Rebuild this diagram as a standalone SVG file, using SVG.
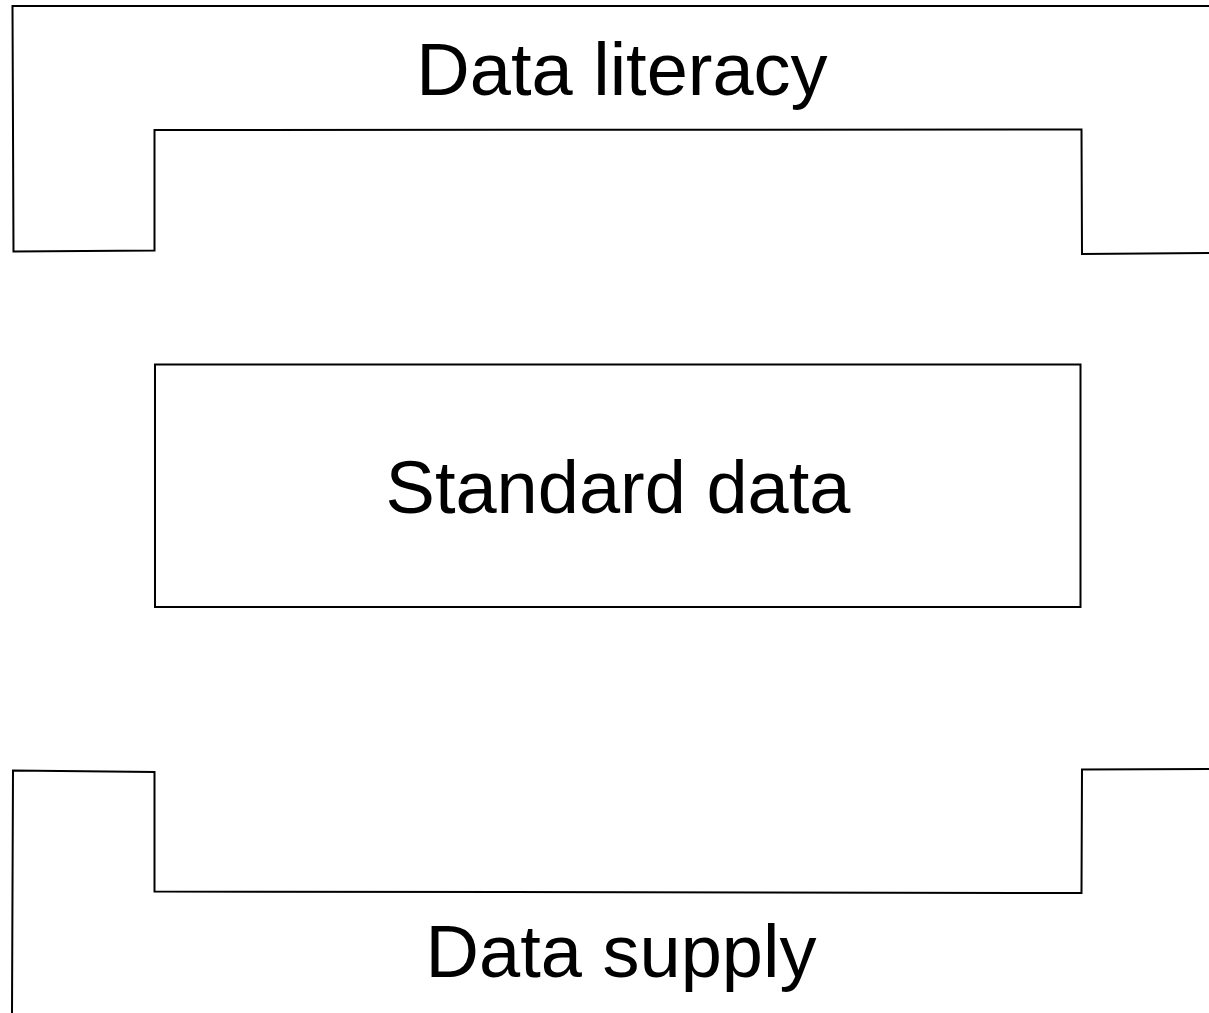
<svg xmlns="http://www.w3.org/2000/svg" width="1209" height="1013" viewBox="0 0 1209 1013">
  <style>
    .frame { fill: none; stroke: #000; stroke-width: 2; stroke-linejoin: miter; }
    .label { font-family: "Liberation Sans", Arial, sans-serif; font-size: 74px; fill: #000; text-anchor: middle; }
  </style>
  <rect width="1209" height="1013" fill="#fff"/>

  <!-- upper bracket: data literacy -->
  <g id="data-literacy">
    <polyline class="frame" points="1209,6 12.5,6 13.5,251.5 154.5,250.5 154.5,130 1081.5,129.5 1082,254 1209,253"/>
    <text class="label" x="622" y="95">Data literacy</text>
  </g>

  <!-- central block: standard data -->
  <g id="standard-data">
    <rect class="frame" x="155" y="364.5" width="925.5" height="242.5"/>
    <text class="label" x="618" y="513">Standard data</text>
  </g>

  <!-- lower bracket: data supply -->
  <g id="data-supply">
    <polyline class="frame" points="12,1013 13,770.5 154.5,772 154.5,891.5 1081.5,893 1082,769.5 1209,769"/>
    <text class="label" x="621" y="977">Data supply</text>
  </g>

  <g id="connectors"/>
</svg>
